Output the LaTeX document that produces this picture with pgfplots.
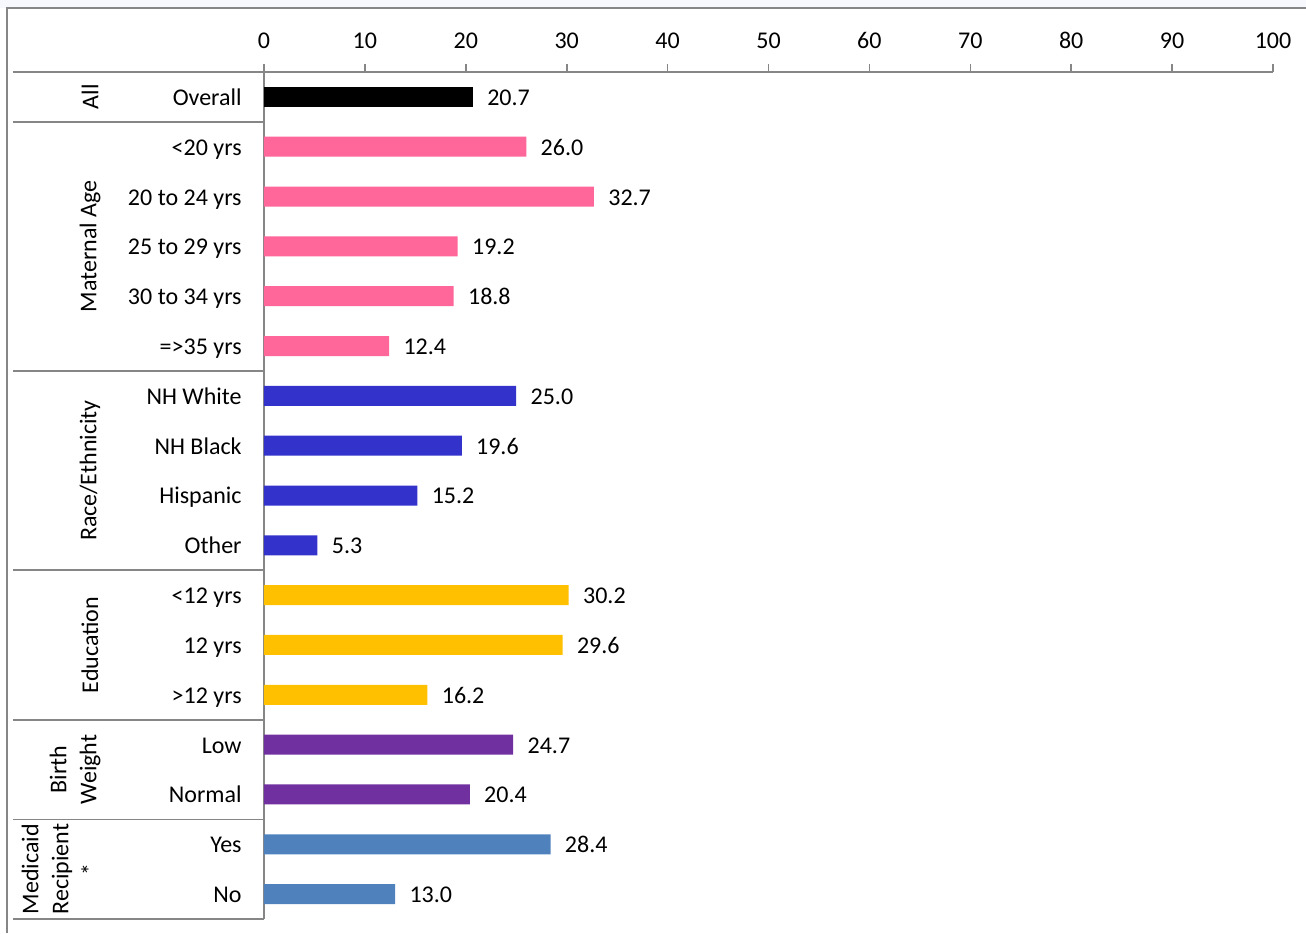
\documentclass[border=0pt]{standalone}
\usepackage{fontspec}
\setmainfont{Carlito}
\usepackage{pgfplots}
\pgfplotsset{compat=1.18}

\definecolor{axgray}{RGB}{134,134,134}
\definecolor{cpink}{RGB}{255,102,153}
\definecolor{cblue}{RGB}{51,51,204}
\definecolor{cgold}{RGB}{255,192,0}
\definecolor{cpurple}{RGB}{112,48,160}
\definecolor{csteel}{RGB}{79,129,189}
\definecolor{topbg}{RGB}{247,248,253}

\begin{document}
\fontsize{12}{15}\selectfont
\begin{tikzpicture}
  \begin{axis}[
      scale only axis,
      width=504.5pt, height=423.5pt,
      xmin=0, xmax=100, ymin=0, ymax=17,
      enlargelimits=false,
      clip=false,
      axis x line*=top,
      axis y line*=left,
      axis line style={axgray, line width=0.8pt},
      xtick={0,10,...,100},
      xtick align=outside,
      major tick length=4pt,
      xtick style={axgray, line width=0.8pt},
      xticklabel style={yshift=3.5pt},
      ytick={0.5,1.5,...,16.5},
      yticklabels={No,Yes,Normal,Low,>12 yrs,12 yrs,<12 yrs,Other,Hispanic,NH Black,NH White,=>35 yrs,30 to 34 yrs,25 to 29 yrs,20 to 24 yrs,<20 yrs,Overall},
      ytick style={draw=none},
      yticklabel style={xshift=-3pt, text height=1.6ex, text depth=0.3ex, yshift=-0.5pt},
      /pgf/number format/assume math mode=true,
      ticklabel style={font=\fontsize{12}{14}\selectfont},
      xbar, bar width=10pt, bar shift=0pt,
      nodes near coords,
      nodes near coords style={font=\fontsize{12}{14}\selectfont, xshift=3pt,
        text height=1.6ex, text depth=0.3ex, yshift=-0.5pt,
        /pgf/number format/.cd, fixed, precision=1, zerofill},
    ]
    % All
    \addplot[fill=black, draw=none] coordinates {(20.7,16.5)};
    % Maternal age
    \addplot[fill=cpink, draw=none] coordinates {(26.0,15.5) (32.7,14.5) (19.2,13.5) (18.8,12.5) (12.4,11.5)};
    % Race/ethnicity
    \addplot[fill=cblue, draw=none] coordinates {(25.0,10.5) (19.6,9.5) (15.2,8.5) (5.3,7.5)};
    % Education
    \addplot[fill=cgold, draw=none] coordinates {(30.2,6.5) (29.6,5.5) (16.2,4.5)};
    % Birth weight
    \addplot[fill=cpurple, draw=none] coordinates {(24.7,3.5) (20.4,2.5)};
    % Medicaid
    \addplot[fill=csteel, draw=none] coordinates {(28.4,1.5) (13.0,0.5)};

    % group separators
    \draw[axgray, line width=0.8pt] ([xshift=-125.5pt]axis cs:0,0) -- (axis cs:0,0);
    \draw[axgray, line width=0.8pt] ([xshift=-125.5pt]axis cs:0,2) -- (axis cs:0,2);
    \draw[axgray, line width=0.8pt] ([xshift=-125.5pt]axis cs:0,4) -- (axis cs:0,4);
    \draw[axgray, line width=0.8pt] ([xshift=-125.5pt]axis cs:0,7) -- (axis cs:0,7);
    \draw[axgray, line width=0.8pt] ([xshift=-125.5pt]axis cs:0,11) -- (axis cs:0,11);
    \draw[axgray, line width=0.8pt] ([xshift=-125.5pt]axis cs:0,16) -- (axis cs:0,16);
    \draw[axgray, line width=0.8pt] ([xshift=-125.5pt]axis cs:0,17) -- (axis cs:0,17);

    % group labels
    \node[rotate=90] at ([xshift=-87pt]axis cs:0,16.5) {All};
    \node[rotate=90] at ([xshift=-87pt]axis cs:0,13.5) {Maternal Age};
    \node[rotate=90] at ([xshift=-87pt]axis cs:0,9) {Race/Ethnicity};
    \node[rotate=90] at ([xshift=-87pt]axis cs:0,5.5) {Education};
    \node[rotate=90, align=center] at ([xshift=-94.5pt]axis cs:0,3) {Birth\\Weight};
    \node[rotate=90, align=center] at ([xshift=-102pt]axis cs:0,1) {Medicaid\\Recipient\\*};
  \end{axis}
  % chart frame
  \fill[topbg] (-132pt,455.5pt) rectangle (521pt,459.5pt);
  \draw[axgray, line width=0.8pt] (521pt,455.5pt) -- (-128.5pt,455.5pt) -- (-128.5pt,-7pt);
  \pgfresetboundingbox
  \useasboundingbox (-132pt,-7pt) rectangle (521pt,459.5pt);
\end{tikzpicture}
\end{document}
